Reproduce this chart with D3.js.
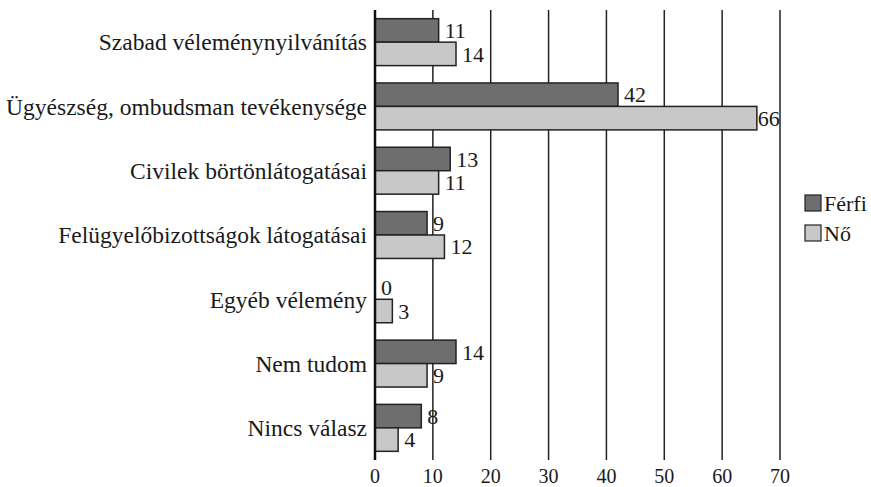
<!DOCTYPE html>
<html>
<head>
<meta charset="utf-8">
<script src="https://cdn.jsdelivr.net/npm/d3@7"></script>
<style>
  body { margin: 0; background: #fff; }
</style>
</head>
<body>
<div id="chart"></div>
<script>
const categories = [
  "Szabad véleménynyilvánítás",
  "Ügyészség, ombudsman tevékenysége",
  "Civilek börtönlátogatásai",
  "Felügyelőbizottságok látogatásai",
  "Egyéb vélemény",
  "Nem tudom",
  "Nincs válasz"
];
const seriesNames = ["Férfi", "Nő"];
const ferfi = [11, 42, 13, 9, 0, 14, 8];
const no = [14, 66, 11, 12, 3, 9, 4];
const xTicks = [0, 10, 20, 30, 40, 50, 60, 70];
const colors = ["#6e6e6e", "#c8c8c8"];

const FONT = "Liberation Serif";
const width = 871, height = 487;
const margin = { top: 10, right: 91, bottom: 27, left: 375 };
const innerH = height - margin.top - margin.bottom;

const svg = d3.select("#chart").append("svg")
  .attr("width", width).attr("height", height);

const g = svg.append("g").attr("transform", `translate(${margin.left},${margin.top})`);

const x = d3.scaleLinear().domain([0, 70]).range([0, 405]);
const y = d3.scaleBand().domain(categories).range([0, innerH]).paddingInner(0.27).paddingOuter(0.135);
const ySub = d3.scaleBand().domain(seriesNames).range([0, y.bandwidth()]);

// vertical grid lines
g.selectAll(".grid").data(xTicks.slice(1)).join("line")
  .attr("x1", d => x(d)).attr("x2", d => x(d))
  .attr("y1", 0).attr("y2", innerH)
  .attr("stroke", "#222").attr("stroke-width", 1.5);

// tick labels
g.selectAll(".tick-label").data(xTicks).join("text")
  .attr("x", d => x(d)).attr("y", innerH + 23)
  .attr("text-anchor", "middle")
  .attr("font-family", FONT)
  .attr("font-size", 20)
  .attr("fill", "#1a1a1a")
  .text(d => d);

const rows = categories.map((c, i) => ({ cat: c, vals: [ferfi[i], no[i]] }));

const grp = g.selectAll(".grp").data(rows).join("g")
  .attr("transform", d => `translate(0,${y(d.cat)})`);

grp.selectAll("rect").data(d => d.vals.map((v, k) => ({ v, k }))).join("rect")
  .attr("x", 0)
  .attr("y", d => ySub(seriesNames[d.k]))
  .attr("width", d => x(d.v))
  .attr("height", ySub.bandwidth())
  .attr("fill", d => colors[d.k])
  .attr("stroke", d => d.v > 0 ? "#222" : "none")
  .attr("stroke-width", 1.5);

grp.selectAll(".val").data(d => d.vals.map((v, k) => ({ v, k }))).join("text")
  .attr("x", d => x(d.v) + (d.v >= 60 ? 1 : 6))
  .attr("y", d => ySub(seriesNames[d.k]) + ySub.bandwidth() / 2)
  .attr("dy", "0.35em")
  .attr("font-family", FONT)
  .attr("font-size", 22)
  .attr("fill", "#1a1a1a")
  .text(d => d.v);

// category labels
g.selectAll(".cat").data(categories).join("text")
  .attr("x", -8)
  .attr("y", d => y(d) + y.bandwidth() / 2)
  .attr("dy", "0.35em")
  .attr("text-anchor", "end")
  .attr("font-family", FONT)
  .attr("font-size", 23.5)
  .attr("fill", "#1a1a1a")
  .text(d => d);

// y axis line
g.append("line")
  .attr("x1", 0).attr("x2", 0).attr("y1", 0).attr("y2", innerH)
  .attr("stroke", "#111").attr("stroke-width", 2.5);

// legend
const legend = svg.append("g").attr("transform", "translate(805,195)");
seriesNames.forEach((s, i) => {
  const lg = legend.append("g").attr("transform", `translate(0,${i * 30})`);
  lg.append("rect").attr("width", 16).attr("height", 16)
    .attr("fill", colors[i]).attr("stroke", "#222").attr("stroke-width", 1.2);
  lg.append("text").attr("x", 19).attr("y", 8).attr("dy", "0.35em")
    .attr("font-family", FONT)
    .attr("font-size", 22)
    .attr("fill", "#1a1a1a")
    .text(s);
});
</script>
</body>
</html>
